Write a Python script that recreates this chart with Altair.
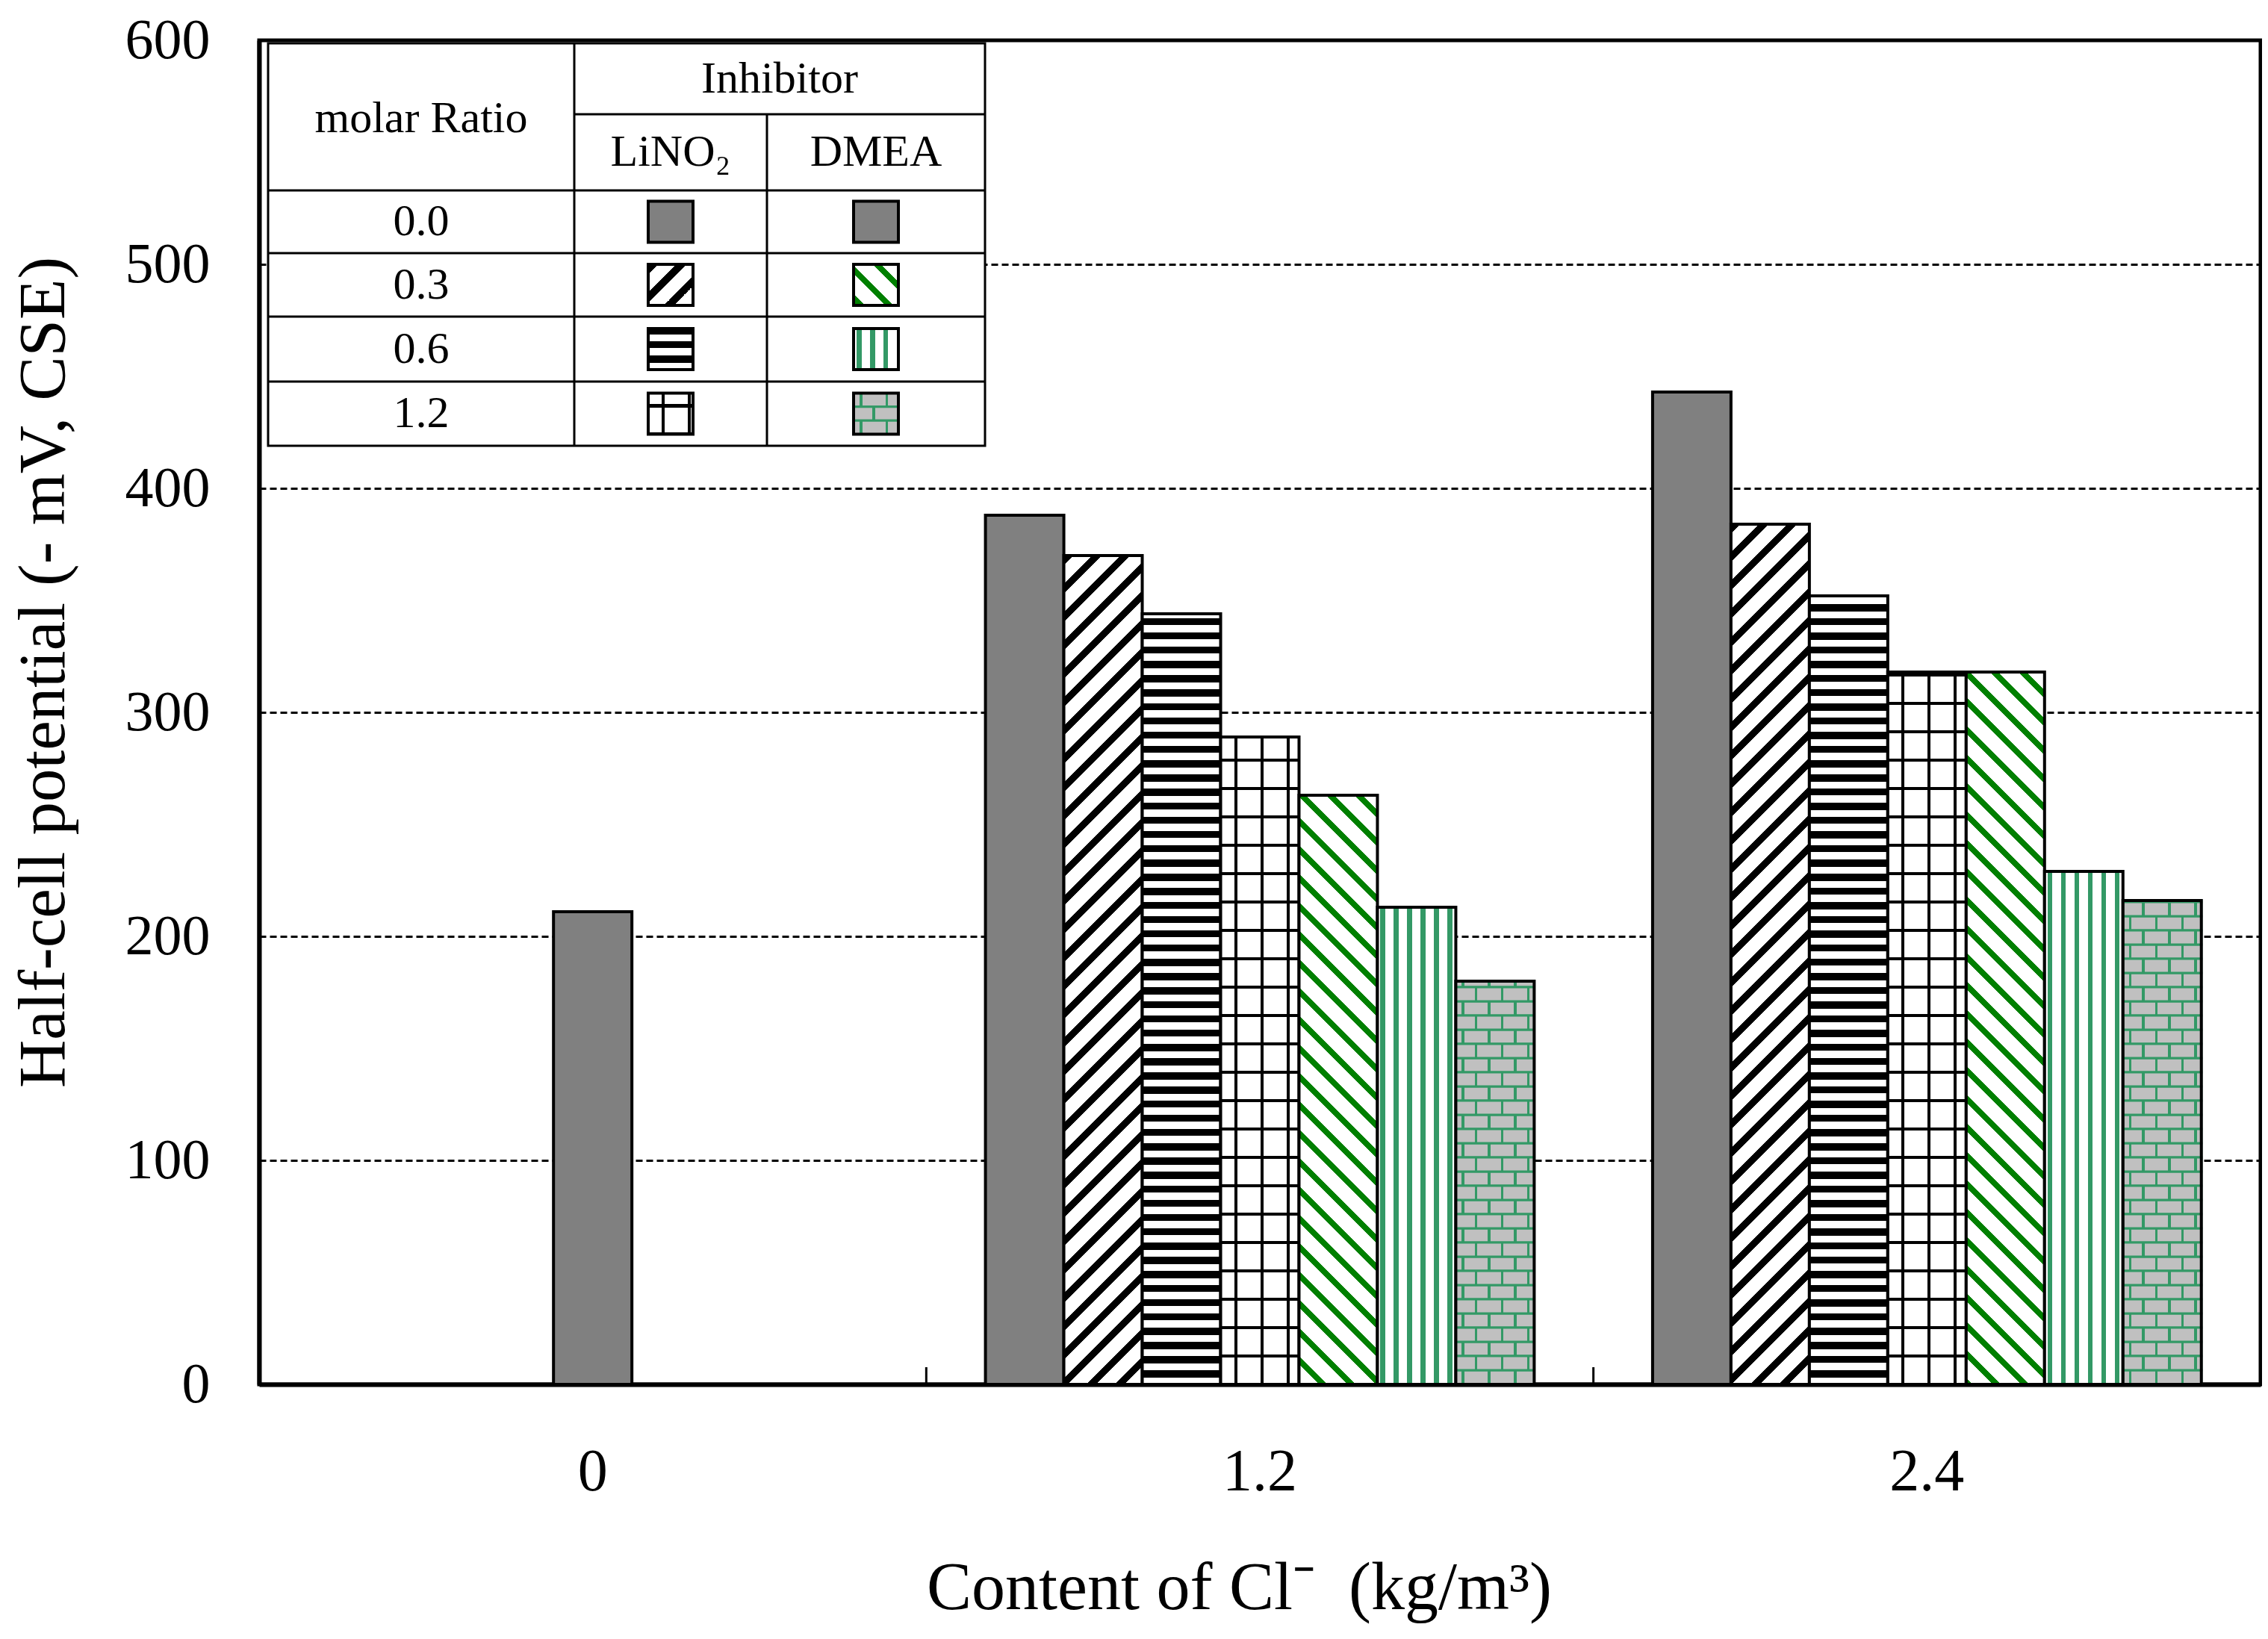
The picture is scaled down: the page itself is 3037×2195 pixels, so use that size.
import math
import altair as alt
import pandas as pd

# ---------------- data ----------------
groups = ["0", "1.2", "2.4"]
series = ["0.0", "LiNO2 0.3", "LiNO2 0.6", "LiNO2 1.2", "DMEA 0.3", "DMEA 0.6", "DMEA 1.2"]
values_0 = [211]
values_12 = [388, 370, 344, 289, 263, 213, 180]
values_24 = [443, 384, 352, 318, 318, 229, 216]
y_ticks = [0, 100, 200, 300, 400, 500, 600]
ratios = ["0.0", "0.3", "0.6", "1.2"]
inhibitors = ["LiNO₂", "DMEA"]
patterns_lino2 = ["solid", "diag_up", "horiz", "grid"]
patterns_dmea = ["solid", "diag_down", "vert", "brick"]
series_pattern = dict(zip(series, ["solid", "diag_up", "horiz", "grid", "diag_down", "vert", "brick"]))

# ---------------- layout / style ----------------
FONT = "Liberation Serif"
W, H = 2680, 1800
YMAX = 600
PXU = H / YMAX
PAD_OUT = 0.755
BAR_FRAC = 1 / (7 + 2 * PAD_OUT)
BAR_W = (W / 3) * BAR_FRAC
SW = 4
GRAY = "#808080"
GREEN = "#008000"
SEA = "#339966"
BRICK = "#C0C0C0"
CLEAR = "rgba(0,0,0,0)"
ROW_B = 19  # brick row height in px


def stops_for(L, lo, hi, period, on, on_color, off_color, offset=0.0):
    segs = []
    k = math.floor((lo - offset) / period) - 1
    pos = offset + k * period
    while pos < hi:
        segs.append((pos, pos + on, on_color))
        segs.append((pos + on, pos + period, off_color))
        pos += period
    stops = []
    for a, b, c in segs:
        a, b = max(a, lo), min(b, hi)
        if b - a <= 1e-9:
            continue
        stops.append(alt.GradientStop(offset=round(a / L, 6), color=c))
        stops.append(alt.GradientStop(offset=round(b / L, 6), color=c))
    return stops


def grad(kind, w, h, period, on, on_color, off_color, offset=0.0):
    r = h / w
    if kind == "up":
        L = w + h * h / w
        return alt.LinearGradient(gradient="linear", x1=0, y1=0, x2=1, y2=r,
                                  stops=stops_for(L, 0, w + h, period, on, on_color, off_color, offset))
    if kind == "down":
        L = w + h * h / w
        return alt.LinearGradient(gradient="linear", x1=0, y1=r, x2=1, y2=0,
                                  stops=stops_for(L, L - w - h, L, period, on, on_color, off_color, offset))
    if kind == "h":
        return alt.LinearGradient(gradient="linear", x1=0, y1=0, x2=0, y2=1,
                                  stops=stops_for(h, 0, h, period, on, on_color, off_color, offset))
    return alt.LinearGradient(gradient="linear", x1=0, y1=0, x2=1, y2=0,
                              stops=stops_for(w, 0, w, period, on, on_color, off_color, offset))


def fills(pat, w, h):
    st = dict(stroke="black", strokeWidth=SW)
    if pat == "solid":
        return [dict(fill=GRAY, **st)]
    if pat == "diag_up":
        return [dict(fill=grad("up", w, h, 38, 13, "black", "white"), **st)]
    if pat == "diag_down":
        return [dict(fill=grad("down", w, h, 38, 11, GREEN, "white"), **st)]
    if pat == "horiz":
        return [dict(fill=grad("h", w, h, 19, 9.5, "black", "white", offset=h % 19), **st)]
    if pat == "vert":
        return [dict(fill=grad("v", w, h, 18, 6.5, SEA, "white", offset=4), **st)]
    if pat == "grid":
        return [dict(fill=grad("v", w, h, 35, 4, "black", "white", offset=18)),
                dict(fill=grad("h", w, h, 38, 4, "black", CLEAR, offset=(h % 38) - 2), **st)]
    raise ValueError(pat)


# ---------------- scales / axes ----------------
x_scale = alt.Scale(domain=groups, paddingInner=0, paddingOuter=0)
off_scale = alt.Scale(domain=series, paddingInner=0, paddingOuter=PAD_OUT)
y_scale = alt.Scale(domain=[0, YMAX], nice=False, zero=True)

x_axis = alt.Axis(
    title="Content of Cl⁻\u00a0 (kg/m³)", labelAngle=0, labelFont=FONT, labelFontSize=80,
    labelColor="black", labelPadding=78, ticks=False, grid=False, domain=True,
    domainColor="black", domainWidth=6, titleFont=FONT, titleFontSize=90,
    titleFontWeight="normal", titleColor="black", titleX=1312, titleY=300,
    titleAlign="center", titleBaseline="alphabetic")
y_axis = alt.Axis(
    values=y_ticks, format="d", grid=True, gridColor="black", gridDash=[9, 5],
    gridWidth=3, gridOpacity=1, domain=True, domainColor="black", domainWidth=6,
    ticks=False, labelFont=FONT, labelFontSize=76, labelColor="black", labelPadding=66,
    title="Half-cell potential (- mV, CSE)", titleFont=FONT, titleFontSize=89,
    titleFontWeight="normal", titleColor="black", titleX=-262, titleY=846,
    titleAngle=270, titleAlign="center", titleBaseline="alphabetic")


def xenc(cl):
    enc = dict(x=alt.X("cl:N", scale=x_scale, axis=x_axis))
    if cl != "0":
        enc["xOffset"] = alt.XOffset("series:N", scale=off_scale)
    return enc


layers = []
for cl, ser, vals in [("0", series[:1], values_0), ("1.2", series, values_12), ("2.4", series, values_24)]:
    for s, v in zip(ser, vals):
        df = pd.DataFrame({"cl": [cl], "series": [s], "value": [v]})
        h = v * PXU
        wkw = {} if cl != "0" else dict(width=alt.RelativeBandSize(band=BAR_FRAC))
        pat = series_pattern[s]
        yenc = alt.Y("value:Q", scale=y_scale, axis=y_axis)
        if pat == "brick":
            du = ROW_B / PXU
            base = (alt.Chart(df)
                    .transform_calculate(row0=f"sequence(0, datum.value, {du})")
                    .transform_flatten(["row0"])
                    .transform_calculate(row1=f"min(datum.row0 + {du}, datum.value)",
                                         parity=f"round(datum.row0 / {du}) % 2"))
            for p in (0, 1):
                layers.append(
                    base.transform_filter(f"datum.parity == {p}")
                    .mark_bar(fill=grad("v", BAR_W, ROW_B, 35, 3.5, SEA, BRICK, offset=8 + p * 17.5),
                              stroke=SEA, strokeWidth=3, **wkw)
                    .encode(y=alt.Y("row0:Q", scale=y_scale, axis=y_axis), y2="row1:Q", **xenc(cl)))
            layers.append(alt.Chart(df).mark_bar(fill="transparent", stroke="black", strokeWidth=SW, **wkw)
                          .encode(y=yenc, **xenc(cl)))
        else:
            for mk in fills(pat, BAR_W, h):
                layers.append(alt.Chart(df).mark_bar(**mk, **wkw).encode(y=yenc, **xenc(cl)))

# inner ticks between groups on x axis
tick_df = pd.DataFrame({"cl": groups[1:]})
layers.append(alt.Chart(tick_df).mark_rule(color="black", strokeWidth=3).encode(
    x=alt.X("cl:N", bandPosition=0, scale=x_scale, axis=x_axis),
    y=alt.value(H - 23), y2=alt.value(H)))

# ---------------- legend table ----------------
one = pd.DataFrame({"k": [0]})
TX = [12, 422, 680, 972]
TY = [4, 99, 201, 285, 370, 457, 543]


def vrect(x0, x1, y0, y1, **mk):
    return alt.Chart(one).mark_rect(**mk).encode(
        x=alt.value(x0), x2=alt.value(x1), y=alt.value(y0), y2=alt.value(y1))


def vrule(x0, x1, y0, y1):
    return alt.Chart(one).mark_rule(color="black", strokeWidth=3).encode(
        x=alt.value(x0), x2=alt.value(x1), y=alt.value(y0), y2=alt.value(y1))


def vtext(x, y, t):
    return alt.Chart(one).mark_text(font=FONT, fontSize=60, color="black", align="center",
                                    baseline="middle", text=t).encode(x=alt.value(x), y=alt.value(y))


layers.append(vrect(TX[0], TX[3], TY[0], TY[6], fill="white", stroke="black", strokeWidth=3))
layers.append(vrule(TX[1], TX[1], TY[0], TY[6]))
layers.append(vrule(TX[2], TX[2], TY[1], TY[6]))
layers.append(vrule(TX[1], TX[3], TY[1], TY[1]))
for yy in TY[2:6]:
    layers.append(vrule(TX[0], TX[3], yy, yy))

layers.append(vtext((TX[0] + TX[1]) / 2, (TY[0] + TY[2]) / 2 + 2, "molar Ratio"))
layers.append(vtext((TX[1] + TX[3]) / 2, (TY[0] + TY[1]) / 2, "Inhibitor"))
for ci, name in enumerate(inhibitors):
    layers.append(vtext((TX[1 + ci] + TX[2 + ci]) / 2, (TY[1] + TY[2]) / 2, name))

SWW, SWH = 60, 55
for ri, rt in enumerate(ratios):
    cy = (TY[2 + ri] + TY[3 + ri]) / 2
    layers.append(vtext((TX[0] + TX[1]) / 2, cy, rt))
    for ci, pats in enumerate([patterns_lino2, patterns_dmea]):
        cx = (TX[1 + ci] + TX[2 + ci]) / 2
        x0, x1, y0, y1 = cx - SWW / 2, cx + SWW / 2, cy - SWH / 2, cy + SWH / 2
        pat = pats[ri]
        if pat == "brick":
            rh = SWH / 3
            for k in range(3):
                layers.append(vrect(x0, x1, y0 + k * rh, y0 + (k + 1) * rh,
                                    fill=grad("v", SWW, rh, 35, 3.5, SEA, BRICK, offset=8 + (k % 2) * 17.5),
                                    stroke=SEA, strokeWidth=3))
            layers.append(vrect(x0, x1, y0, y1, fill="transparent", stroke="black", strokeWidth=SW))
        else:
            for mk in fills(pat, SWW, SWH):
                layers.append(vrect(x0, x1, y0, y1, **mk))

chart = alt.layer(*layers).properties(
    width=W, height=H,
    padding={"left": 339, "top": 46, "right": 2, "bottom": 326},
    autosize=alt.AutoSizeParams(type="none"),
).configure_view(stroke="black", strokeWidth=5)

chart.save("out.html", embed_options={"renderer": "svg", "actions": False})
